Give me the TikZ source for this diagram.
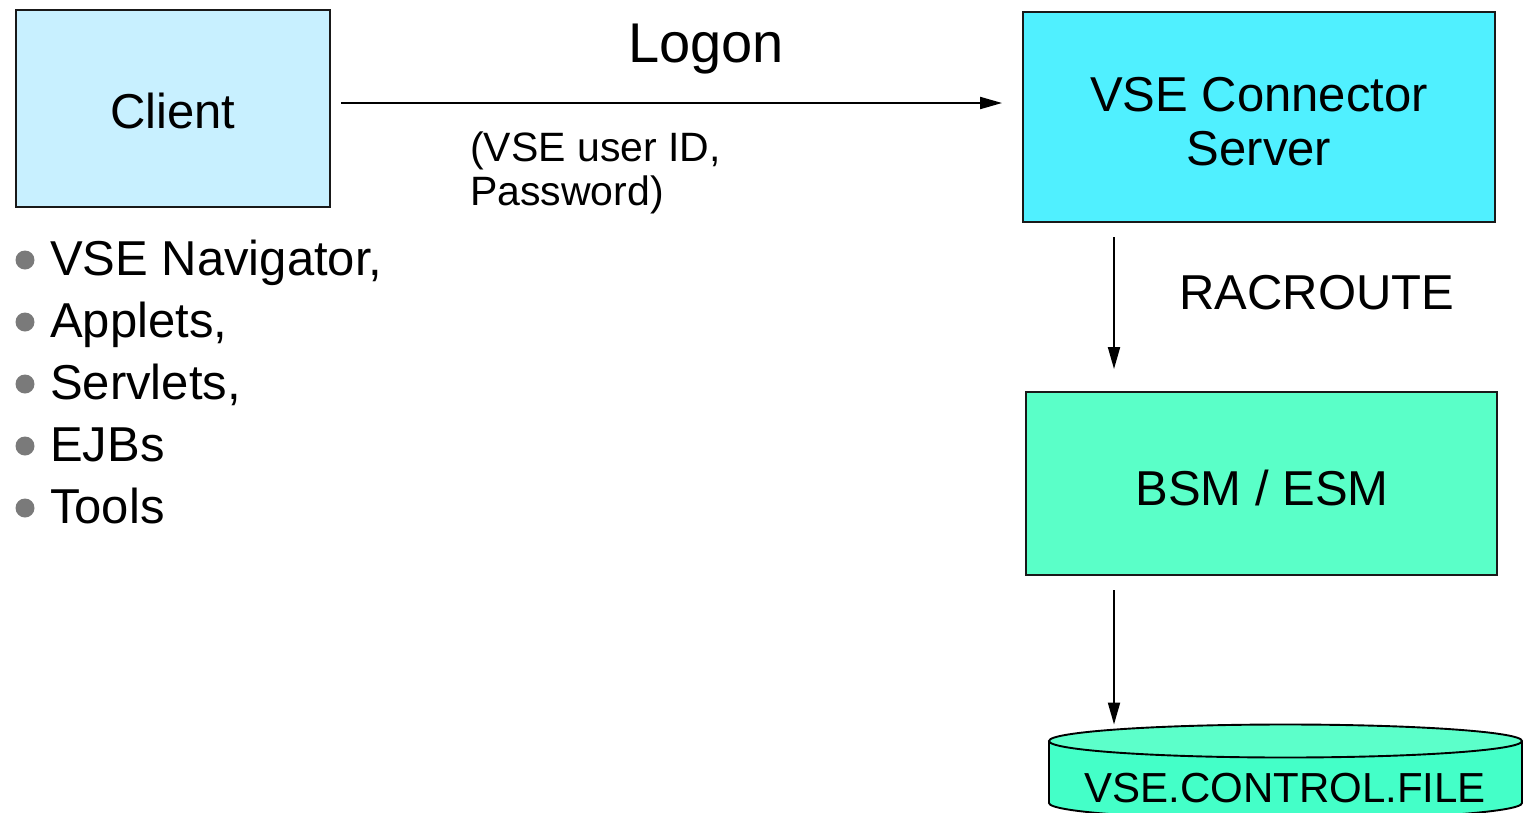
\documentclass[tikz,border=0pt]{standalone}
\usepackage{fontspec}
\setmainfont{Liberation Sans}
\usetikzlibrary{arrows.meta}
\definecolor{clientfill}{HTML}{C8F0FF}
\definecolor{serverfill}{HTML}{50F0FF}
\definecolor{bsmfill}{HTML}{5AFFC8}
\definecolor{cyltop}{HTML}{5CFFCA}
\definecolor{cylbody}{HTML}{44FFC8}
\definecolor{bulletgray}{HTML}{7A7A7A}
\tikzset{
  box/.style={draw=black!90, line width=1.9pt, rectangle, inner sep=0pt},
  big/.style={font=\fontsize{49}{55}\selectfont, inner sep=0pt, anchor=base},
  mid/.style={font=\fontsize{41}{46}\selectfont, inner sep=0pt, anchor=base west},
  arr/.style={line width=2pt, -{Triangle[length=22pt,width=12pt]}},
  bullet/.style={circle, fill=bulletgray, inner sep=0pt, minimum size=19pt},
}
\begin{document}
\begin{tikzpicture}[x=1pt,y=-1pt]
\useasboundingbox (0,0) rectangle (1523,812);
% boxes
\node[box, fill=clientfill, minimum width=314pt, minimum height=197pt] (client) at (173,108.5) {};
\node[box, fill=serverfill, minimum width=472pt, minimum height=210pt] (server) at (1259,117) {};
\node[box, fill=bsmfill, minimum width=471pt, minimum height=183pt] (bsm) at (1261.5,483.5) {};
% box texts
\node[big] (clienttxt) at (173,128) {Client};
\node[big] (servertxt1) at (1259,111) {VSE Connector};
\node[big] (servertxt2) at (1259,165) {Server};
\node[big] (bsmtxt) at (1262,505) {BSM / ESM};
% cylinder
\fill[cylbody] (1049,741) -- (1049,803) arc[start angle=180, end angle=360, x radius=236.5pt, y radius=16.5pt] -- (1522,741) -- cycle;
\draw[line width=1.9pt] (1049,741) -- (1049,803) arc[start angle=180, end angle=360, x radius=236.5pt, y radius=16.5pt] -- (1522,741);
\draw[line width=1.9pt, fill=cyltop] (1285.5,741) ellipse[x radius=236.5pt, y radius=16.5pt];
\coordinate (cyl) at (1285.5,724.5);
\node[big, font=\fontsize{42}{48}\selectfont] (cyltxt) at (1285,802) {VSE.CONTROL.FILE};
% labels
\node[big, font=\fontsize{56}{60}\selectfont] (logon) at (706,62) {Logon};
\node[mid] (cred1) at (470,161.5) {(VSE user ID,};
\node[mid] (cred2) at (470,205.5) {Password)};
\node[big] (racroute) at (1317,309) {RACROUTE};
% bullet list
\foreach \t [count=\i from 0] in {VSE Navigator{,}, Applets{,}, Servlets{,}, EJBs, Tools} {
  \node[bullet] (b\i) at (25,260+62*\i) {};
  \node[big, anchor=base west] (l\i) at (50,275+62*\i) {\t};
}
% connectors
\coordinate (a1) at (341,103);
\draw[arr, shorten >=20pt] (a1) -- (a1 -| server.west);
\coordinate (a2) at (1114,237);
\draw[arr, shorten >=22pt] (a2) -- (a2 |- bsm.north);
\coordinate (a3) at (1114,590);
\draw[arr] (a3) -- (a3 |- cyl);
\end{tikzpicture}
\end{document}
